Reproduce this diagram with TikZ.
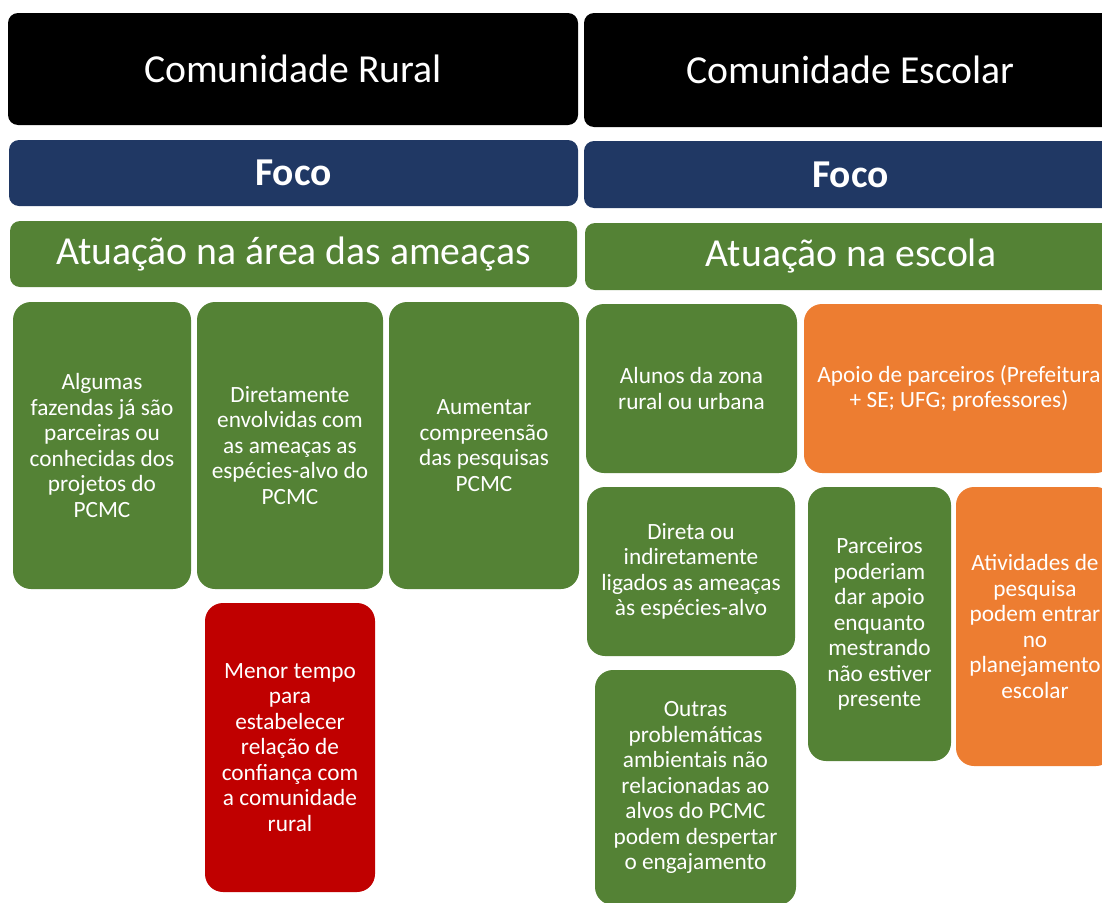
\documentclass[tikz,border=0pt]{standalone}
\usepackage{fontspec}
\setmainfont{Carlito}

\definecolor{focoblue}{HTML}{203864}
\definecolor{leafgreen}{HTML}{548235}
\definecolor{apoioorange}{HTML}{ED7D31}
\definecolor{alertred}{HTML}{C00000}

\begin{document}
\begin{tikzpicture}[x=1pt,y=-1pt,
  panel/.style={rounded corners=10, inner sep=0, text=white, align=center},
  titlebox/.style={panel, fill=black, font=\fontsize{39.7}{46}\selectfont},
  focobox/.style={panel, fill=focoblue, font=\fontsize{39.5}{46}\selectfont\bfseries},
  areabox/.style={panel, fill=leafgreen, font=\fontsize{39.7}{46}\selectfont},
  card/.style={rounded corners=18, inner sep=0, text=white, align=center,
    font=\fontsize{23.3}{25.5}\selectfont},
  green card/.style={card, fill=leafgreen},
  orange card/.style={card, fill=apoioorange},
  red card/.style={card, fill=alertred}]
  \clip (0,0) rectangle (1102,902);

  % rural column
  \node[titlebox, minimum width=570, minimum height=112] (rural) at (293,69) {Comunidade Rural};
  \node[focobox, minimum width=569, minimum height=66] (focoA) at (293.5,173) {Foco};
  \node[areabox, minimum width=567, minimum height=66] (atuA) at (293.5,254) {Atuação na área das ameaças};
  \node[green card, minimum width=178, minimum height=287] (fazendas) at (102,445.5)
    {Algumas\\fazendas já são\\parceiras ou\\conhecidas dos\\projetos do\\PCMC};
  \node[green card, minimum width=186, minimum height=287] (diretamente) at (290,445.5)
    {Diretamente\\envolvidas com\\as ameaças as\\espécies-alvo do\\PCMC};
  \node[green card, minimum width=190, minimum height=287] (aumentar) at (484,445.5)
    {Aumentar\\compreensão\\das pesquisas\\PCMC};
  \node[red card, minimum width=170, minimum height=289] (menor) at (290,747.5)
    {Menor tempo\\para\\estabelecer\\relação de\\confiança com\\a comunidade\\rural};

  % school column
  \node[titlebox, minimum width=533, minimum height=114] (escolar) at (850.5,70) {Comunidade Escolar};
  \node[focobox, minimum width=533, minimum height=67] (focoB) at (850.5,174.5) {Foco};
  \node[areabox, minimum width=532, minimum height=67] (atuB) at (851,256.5) {Atuação na escola};
  \node[green card, minimum width=211, minimum height=169] (alunos) at (691.5,388.5)
    {Alunos da zona\\rural ou urbana};
  \node[orange card, minimum width=310, minimum height=169] (apoio) at (959,388.5)
    {Apoio de parceiros (Prefeitura\\+ SE; UFG; professores)};
  \node[green card, minimum width=208, minimum height=169] (direta) at (691,571.5)
    {Direta ou\\indiretamente\\ligados as ameaças\\às espécies-alvo};
  \node[green card, minimum width=201, minimum height=235] (outras) at (695.5,787.5)
    {Outras\\problemáticas\\ambientais não\\relacionadas ao\\alvos do PCMC\\podem despertar\\o engajamento};
  \node[green card, minimum width=143, minimum height=274] (parceiros) at (879.5,624)
    {Parceiros\\poderiam\\dar apoio\\enquanto\\mestrando\\não estiver\\presente};
  \node[orange card, minimum width=158, minimum height=279] (atividades) at (1035,626.5)
    {Atividades de\\pesquisa\\podem entrar\\no\\planejamento\\escolar};
\end{tikzpicture}
\end{document}
